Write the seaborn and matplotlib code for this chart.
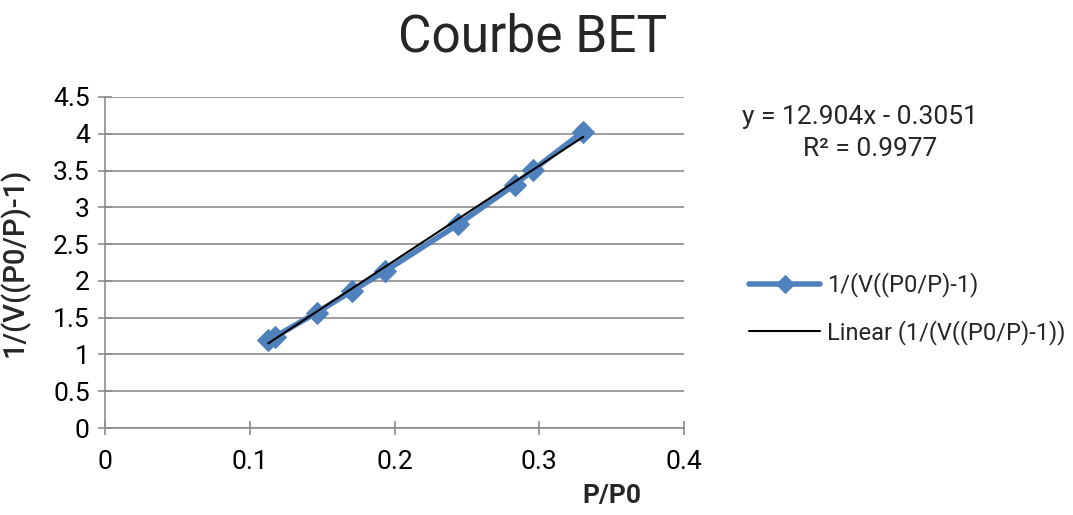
import numpy as np
import pandas as pd
import matplotlib
matplotlib.use("Agg")
import matplotlib.pyplot as plt
import seaborn as sns

# BET measurements
p_over_p0 = [0.1128, 0.1174, 0.1463, 0.1704, 0.1934, 0.2441, 0.2832, 0.2959, 0.3304]
bet_value = [1.19, 1.24, 1.57, 1.86, 2.13, 2.77, 3.31, 3.51, 4.03]

# Linear trendline parameters
slope = 12.904
intercept = -0.3051
r_squared = 0.9977

series_label = "1/(V((P0/P)-1)"
trend_label = "Linear (1/(V((P0/P)-1))"

sns.set_theme(style="white")
plt.rcParams["font.family"] = ["Roboto", "DejaVu Sans"]

fig = plt.figure(figsize=(10.73, 5.15), dpi=100)
ax = fig.add_axes([105 / 1073, 1 - 428 / 515, (684 - 105) / 1073, (428 - 97) / 515])

df = pd.DataFrame({"x": p_over_p0, "y": bet_value})
blue = "#4F81BD"
sns.lineplot(data=df, x="x", y="y", ax=ax, color=blue, linewidth=4,
             marker="D", markersize=11, markeredgecolor=blue, label=series_label,
             zorder=3)

xfit = np.array([min(p_over_p0), max(p_over_p0)])
ax.plot(xfit, slope * xfit + intercept, color="black", linewidth=1.5,
        label=trend_label, zorder=4)

ax.set_xlim(0, 0.4)
ax.set_ylim(0, 4.5)
ax.set_xticks([0, 0.1, 0.2, 0.3, 0.4])
ax.set_xticklabels(["0", "0.1", "0.2", "0.3", "0.4"])
ax.set_yticks(np.arange(0, 4.51, 0.5))
ax.set_yticklabels(["0", "0.5", "1", "1.5", "2", "2.5", "3", "3.5", "4", "4.5"])
ax.yaxis.grid(True, color="#8C8C8C", linewidth=1.2)
ax.xaxis.grid(False)

for s in ["top", "right"]:
    ax.spines[s].set_visible(False)
for s in ["left", "bottom"]:
    ax.spines[s].set_color("#8C8C8C")
    ax.spines[s].set_linewidth(1.2)
ax.tick_params(axis="both", direction="inout", length=10, width=1.2,
               color="#8C8C8C", labelsize=19, labelcolor="black",
               left=True, bottom=True)
ax.tick_params(axis="x", pad=11)
ax.tick_params(axis="y", pad=6)

ax.set_xlabel("P/P0", fontsize=19, fontweight="bold")
ax.xaxis.set_label_coords(0.875, -0.17)
ax.set_ylabel("1/(V((P0/P)-1)", fontsize=21, fontweight="medium")
ax.yaxis.set_label_coords(-0.13, 0.5)

fig.text(533 / 1073, 1 - 38 / 515, "Courbe BET", fontsize=37, ha="center",
         va="center")

fig.text(742 / 1073, 1 - 117 / 515, f"y = {slope}x - {abs(intercept)}",
         fontsize=19, ha="left", va="center")
fig.text(870 / 1073, 1 - 149 / 515, f"R² = {r_squared}",
         fontsize=19, ha="center", va="center")

leg = ax.legend(loc="upper left", bbox_to_anchor=(740 / 1073, 1 - 263 / 515),
                bbox_transform=fig.transFigure, frameon=False, fontsize=17,
                handlelength=3.0, handletextpad=0.3, labelspacing=0.95,
                borderaxespad=0, markerscale=0.8)

fig.savefig("out.png", dpi=100)
